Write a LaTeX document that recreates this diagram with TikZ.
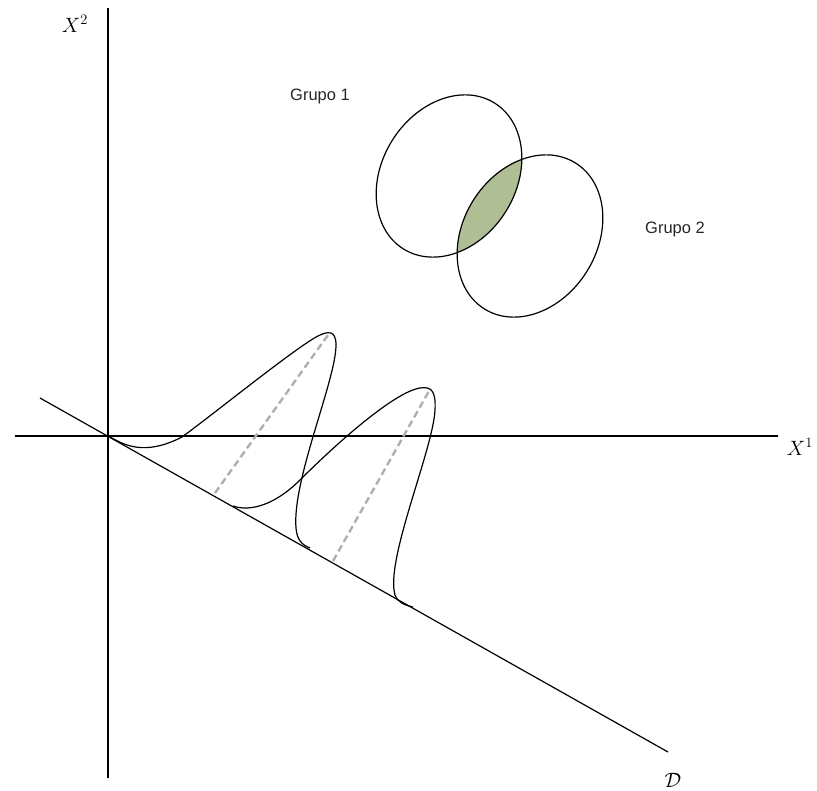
\documentclass[tikz,border=0pt]{standalone}
\usepackage{fontspec}
\newfontfamily\grpfont{Liberation Sans}
\definecolor{lensgreen}{RGB}{176,190,150}
\definecolor{dashgray}{RGB}{175,175,175}
\begin{document}
\begin{tikzpicture}[x=1pt,y=-1pt,
  axis/.style={line width=1.2pt,black},
  curve/.style={line width=1.2pt,black},
  guide/.style={line width=2.4pt,dashgray,dash pattern=on 7pt off 4pt},
  lbl/.style={inner sep=0pt,font=\fontsize{21}{24}\selectfont},
  grp/.style={inner sep=0pt,font=\grpfont\fontsize{16.5}{19}\selectfont,text=black!85},
  ell/.style={line width=1.2pt,black}]
\useasboundingbox (0,0) rectangle (817,791);
% axes
\coordinate (vtop) at (108,8);
\coordinate (vbot) at (108,778);
\coordinate (hl) at (15,436);
\coordinate (hr) at (778,436);
\coordinate (ds) at (40,398);
\coordinate (de) at (668,752);
\draw[axis] (vtop) -- (vbot);
\draw[axis] (hl) -- (hr);
\draw[axis] (ds) -- (de);
\node[lbl] (x2) at (75,24) {$X^2$};
\node[lbl] (x1) at (800,447) {$X^1$};
\node[lbl] (dl) at (673,780) {$\mathcal{D}$};
% ellipses
\begin{scope}
  \clip[shift={(449,176)},rotate=-32] (0,0) ellipse [x radius=67, y radius=86];
  \fill[lensgreen,shift={(530,236)},rotate=-32] (0,0) ellipse [x radius=67, y radius=86];
\end{scope}
\draw[ell,shift={(449,176)},rotate=-32] (0,0) ellipse [x radius=67, y radius=86];
\draw[ell,shift={(530,236)},rotate=-32] (0,0) ellipse [x radius=67, y radius=86];
\node[grp] (g1) at (320,96) {Grupo 1};
\node[grp] (g2) at (675,229) {Grupo 2};
% dashed guides
\coordinate (p1) at (328,335);
\coordinate (b1) at (215,493);
\coordinate (p2) at (429,391);
\coordinate (b2) at (333,561);
\draw[guide] (b1) -- (p1);
\draw[guide] (b2) -- (p2);
% distributions
\draw[curve] (110,437) .. controls (125,445.5) and (145,456) .. (182,437)
  .. controls (215,413) and (295,348) .. (318,336)
  .. controls (328,331) and (336,330) .. (336,345)
  .. controls (336,380) and (292,480) .. (296,528)
  .. controls (297,540) and (302,545) .. (310,548);
\draw[curve] (233,506) .. controls (250,512) and (275,505) .. (300,480)
  .. controls (340,440) and (395,392) .. (420,388)
  .. controls (432,386) and (436,392) .. (435,410)
  .. controls (433,450) and (385,560) .. (395,595)
  .. controls (398,603) and (405,605) .. (413,607);
\end{tikzpicture}
\end{document}
